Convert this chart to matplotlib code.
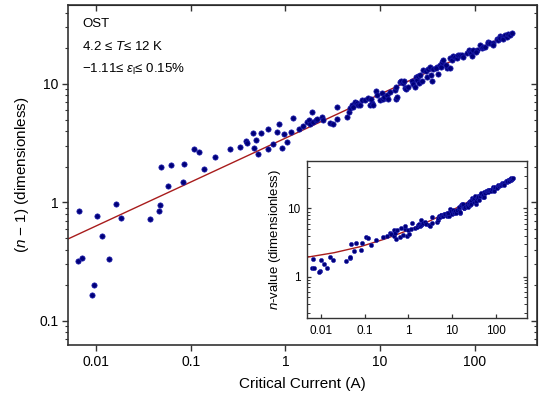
import matplotlib
matplotlib.use('Agg')
import matplotlib.pyplot as plt
from matplotlib.ticker import LogLocator, FixedLocator, FixedFormatter, NullFormatter, NullLocator

plt.rcParams['font.family'] = ['Liberation Sans', 'DejaVu Sans']
plt.rcParams['mathtext.fontset'] = 'custom'
plt.rcParams['mathtext.rm'] = 'Liberation Sans'
plt.rcParams['mathtext.it'] = 'Liberation Sans:italic'

# critical current (A) and (n - 1)
current = [0.00667, 0.00641, 0.00706, 0.00953, 0.00901, 0.0103, 0.0115, 0.0138, 0.0163, 0.0185,
           0.0369, 0.0463, 0.0471, 0.0483, 0.0576, 0.0619, 0.0836, 0.0849, 0.108, 0.122,
           0.138, 0.182, 0.258, 0.332, 0.381, 0.396, 0.458, 0.463, 0.493, 0.518,
           0.552, 0.650, 0.663, 0.743, 0.822, 0.846, 0.927, 0.959, 1.03, 1.14,
           1.20, 1.39, 1.55, 1.68, 1.79, 1.82, 1.93, 1.94, 2.09, 2.14,
           2.42, 2.48, 2.96, 3.18, 3.48, 3.55, 4.51, 4.66, 4.85, 5.01,
           5.21, 5.43, 5.66, 5.89, 6.13, 6.39, 6.93, 7.50, 7.82, 8.15,
           8.47, 8.10, 9.06, 9.21, 9.98, 10.4, 10.8, 11.0, 11.7, 12.2,
           12.7, 14.4, 14.7, 14.9, 15.0, 16.2, 16.5, 17.6, 18.0, 18.3,
           18.9, 19.9, 21.6, 22.4, 23.4, 23.9, 24.3, 25.3, 26.4, 26.0,
           27.5, 28.6, 31.0, 30.6, 32.3, 33.6, 35.1, 34.8, 36.5, 39.6,
           39.0, 41.2, 42.9, 43.7, 44.8, 46.5, 50.5, 50.0, 54.7, 54.2,
           57.0, 59.3, 61.8, 64.4, 67.0, 69.8, 72.8, 75.7, 82.2, 87.5,
           89.0, 91.2, 92.8, 96.4, 105, 104, 113, 118, 123, 128,
           139, 138, 145, 157, 155, 170, 177, 185, 183, 200,
           198, 208, 217, 226, 235, 245]
n_minus_1 = [0.847, 0.323, 0.342, 0.202, 0.165, 0.774, 0.521, 0.333, 0.971, 0.736,
             0.721, 0.853, 0.953, 2.00, 1.39, 2.07, 1.49, 2.11, 2.84, 2.69,
             1.92, 2.42, 2.84, 2.96, 3.31, 3.20, 3.86, 2.91, 3.37, 2.57,
             3.88, 2.80, 4.17, 3.10, 3.95, 4.62, 2.90, 3.82, 3.25, 3.95,
             5.14, 4.20, 4.38, 4.75, 4.94, 4.59, 5.81, 4.81, 4.97, 5.04,
             5.30, 4.97, 4.64, 4.62, 6.43, 5.05, 5.27, 5.84, 6.23, 6.65,
             6.43, 7.09, 6.87, 6.70, 6.65, 7.26, 7.33, 7.57, 6.65, 6.87,
             6.65, 7.52, 8.69, 8.07, 7.33, 8.35, 7.52, 7.82, 8.07, 7.43,
             8.61, 8.90, 9.49, 7.48, 7.82, 10.3, 10.6, 10.1, 10.6, 9.20,
             9.00, 9.49, 10.5, 10.0, 9.49, 11.5, 10.7, 11.7, 11.9, 10.1,
             10.5, 13.1, 11.5, 12.9, 13.3, 14.0, 10.5, 11.9, 13.3, 14.0,
             13.6, 12.1, 14.5, 14.0, 15.4, 16.0, 13.6, 14.5, 16.5, 13.6,
             16.0, 17.2, 17.0, 16.5, 17.6, 17.6, 17.6, 16.8, 18.2, 19.4,
             18.7, 18.2, 17.2, 19.4, 19.4, 18.7, 21.3, 20.0, 20.7, 20.7,
             22.8, 22.0, 22.0, 22.3, 21.3, 24.0, 23.5, 25.4, 24.3, 24.8,
             23.9, 25.9, 25.1, 26.4, 25.9, 27.1]
n_value = [v + 1 for v in n_minus_1]

# fitted curves
fit_x = [0.005, 250]
fit_y = [0.49, 27.0]
inset_fit_x = [0.005, 0.02, 0.08, 0.3, 1, 3, 10, 30, 100, 250]
inset_fit_y = [1.94, 2.25, 2.76, 3.59, 4.8, 6.51, 9.42, 13.5, 20.5, 28.4]

x_ticks = [0.01, 0.1, 1, 10, 100]
x_labels = ['0.01', '0.1', '1', '10', '100']
y_ticks = [0.1, 1, 10]
y_labels = ['0.1', '1', '10']
inset_y_ticks = [1, 10]
inset_y_labels = ['1', '10']

dot_color = '#00007a'
dot_edge = '#2020b0'
fit_color = '#a81c1c'
spine_color = '#333333'

fig = plt.figure(figsize=(5.39, 4.0), dpi=100)
ax = fig.add_axes([0.1262, 0.1375, 0.870, 0.85])

ax.plot(fit_x, fit_y, color=fit_color, lw=1.0, zorder=2)
ax.plot(current, n_minus_1, 'o', ms=3.8, mfc=dot_color, mec=dot_edge, mew=0.5, zorder=3)
ax.set_xscale('log')
ax.set_yscale('log')
ax.set_xlim(0.00506, 454)
ax.set_ylim(0.0627, 46.4)

ax.xaxis.set_major_locator(FixedLocator(x_ticks))
ax.xaxis.set_major_formatter(FixedFormatter(x_labels))
ax.xaxis.set_minor_locator(NullLocator())
ax.yaxis.set_major_locator(FixedLocator(y_ticks))
ax.yaxis.set_major_formatter(FixedFormatter(y_labels))
ax.yaxis.set_minor_locator(LogLocator(base=10, subs=range(2, 10)))
ax.yaxis.set_minor_formatter(NullFormatter())
ax.tick_params(axis='both', which='major', direction='out', length=4, width=1, color=spine_color,
               labelsize=10, pad=3)
ax.tick_params(axis='y', which='minor', direction='out', length=2.5, width=0.8, color=spine_color)
for s in ax.spines.values():
    s.set_color(spine_color)
    s.set_linewidth(1.2)

# inward ticks on top and right
top = ax.secondary_xaxis('top')
top.xaxis.set_major_locator(FixedLocator(x_ticks))
top.xaxis.set_minor_locator(NullLocator())
top.tick_params(direction='in', length=4.5, width=1, color=spine_color, labeltop=False)
right = ax.secondary_yaxis('right')
right.yaxis.set_major_locator(FixedLocator(y_ticks))
right.yaxis.set_minor_locator(LogLocator(base=10, subs=range(2, 10)))
right.yaxis.set_minor_formatter(NullFormatter())
right.tick_params(which='major', direction='in', length=4, width=1, color=spine_color, labelright=False)
right.tick_params(which='minor', direction='in', length=2.5, width=0.8, color=spine_color)

ax.set_xlabel('Critical Current (A)', fontsize=11, labelpad=6)
ax.set_ylabel('($n$ \u2212 1) (dimensionless)', fontsize=11, labelpad=6)

ax.text(0.03, 0.935, 'OST', transform=ax.transAxes, fontsize=9.5)
ax.text(0.03, 0.868, '4.2 \u2264 $T$\u2264 12 K', transform=ax.transAxes, fontsize=9.5)
ax.text(0.03, 0.800, '\u22121.11\u2264 $\\varepsilon_{\\rm l}$\u2264 0.15%', transform=ax.transAxes, fontsize=9.5)

# inset
ins = fig.add_axes([0.570, 0.204, 0.407, 0.394])
ins.plot(inset_fit_x, inset_fit_y, color=fit_color, lw=1.0, zorder=2)
ins.plot(current, n_value, 'o', ms=3.0, mfc=dot_color, mec=dot_edge, mew=0.4, zorder=3)
ins.set_xscale('log')
ins.set_yscale('log')
ins.set_xlim(0.00486, 504)
ins.set_ylim(0.2465, 49.6)
ins.xaxis.set_major_locator(FixedLocator(x_ticks))
ins.xaxis.set_major_formatter(FixedFormatter(x_labels))
ins.xaxis.set_minor_locator(NullLocator())
ins.yaxis.set_major_locator(FixedLocator(inset_y_ticks))
ins.yaxis.set_major_formatter(FixedFormatter(inset_y_labels))
ins.yaxis.set_minor_locator(LogLocator(base=10, subs=range(2, 10)))
ins.yaxis.set_minor_formatter(NullFormatter())
ins.tick_params(axis='both', which='major', direction='in', length=3, width=0.9, color=spine_color,
                labelsize=8.5, pad=5)
ins.tick_params(axis='y', which='both', right=True)
ins.tick_params(axis='y', which='minor', direction='in', length=2, width=0.7, color=spine_color)
for s in ins.spines.values():
    s.set_color(spine_color)
    s.set_linewidth(1.0)
ins.set_ylabel('$n$-value (dimensionless)', fontsize=9.5, labelpad=3)

fig.savefig('out.png', dpi=100)
